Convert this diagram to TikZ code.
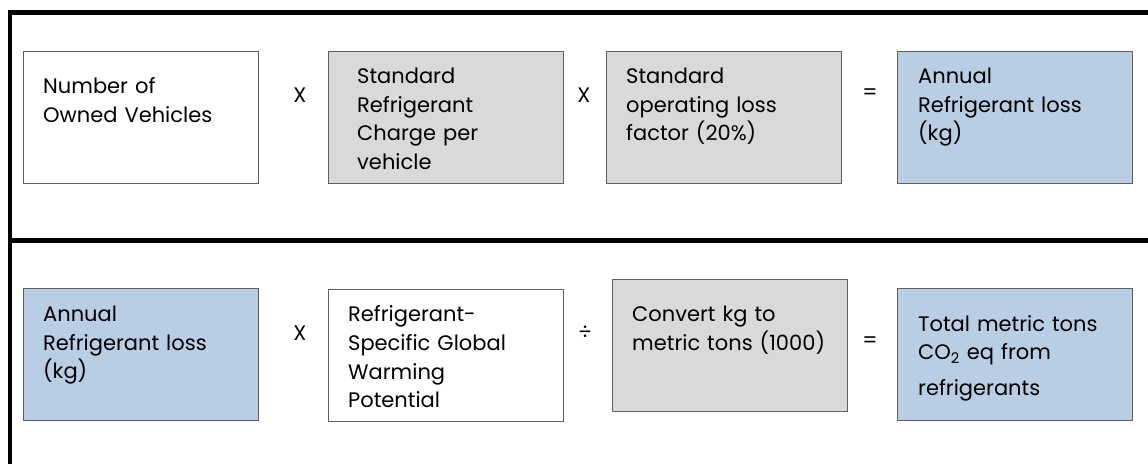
\documentclass[tikz,border=0pt]{standalone}
\usepackage{fontspec}
\setmainfont{Poppins}
\definecolor{boxgray}{HTML}{D9D9D9}
\definecolor{boxblue}{HTML}{B9CDE5}
\definecolor{edge}{HTML}{5F5F5F}
\tikzset{
  box/.style={draw=edge, line width=1pt, rectangle, anchor=north west, inner sep=0pt,
    minimum width=235pt, minimum height=132pt},
  txt/.style={anchor=base west, inner sep=0pt, align=left, text width=225pt,
    font=\fontsize{21}{28.7}\selectfont},
  op/.style={inner sep=0pt, font=\fontsize{21}{24}\selectfont},
  frame/.style={line width=4.6pt}
}
\begin{document}
\begin{tikzpicture}[x=1pt,y=-1pt]
\useasboundingbox (0,0) rectangle (1148,464);
% frame
\draw[frame] (10,464) -- (10,12.5) -- (1148,12.5);
\draw[frame] (10,240.5) -- (1148,240.5);
% row 1
\node[box, fill=white] (a1) at (23,51) {};
\node[box, fill=boxgray] (a2) at (328,51) {};
\node[box, fill=boxgray] (a3) at (606,51) {};
\node[box, fill=boxblue] (a4) at (897,51) {};
\node[txt] (ta1) at (43,93.3) {Number of\\Owned Vehicles};
\node[txt] (ta2) at (357,83.3) {Standard\\Refrigerant\\Charge per\\vehicle};
\node[txt] (ta3) at (626,83.3) {Standard\\operating loss\\factor (20\%)};
\node[txt] (ta4) at (918,83.3) {Annual\\Refrigerant loss\\(kg)};
\node[op] (oa1) at (300,95) {X};
\node[op] (oa2) at (584,95) {X};
\node[op] (oa3) at (870,94) {=};
% row 2
\node[box, fill=boxblue] (b1) at (23,288) {};
\node[box, fill=white] (b2) at (328,289) {};
\node[box, fill=boxgray] (b3) at (612,279) {};
\node[box, fill=boxblue] (b4) at (897,288) {};
\node[txt] (tb1) at (43,321.5) {Annual\\Refrigerant loss\\(kg)};
\node[txt] (tb2) at (348,321.7) {Refrigerant-\\Specific Global\\Warming\\Potential};
\node[txt] (tb3) at (632,321.7) {Convert kg to\\metric tons (1000)};
\node[txt] (tb4) at (918,331) {Total metric tons\\CO\textsubscript{2} eq from\\[7pt]refrigerants};
\node[op] (ob1) at (300,333) {X};
\node[op] (ob2) at (585,333) {÷};
\node[op] (ob3) at (870,341.7) {=};
\end{tikzpicture}
\end{document}
